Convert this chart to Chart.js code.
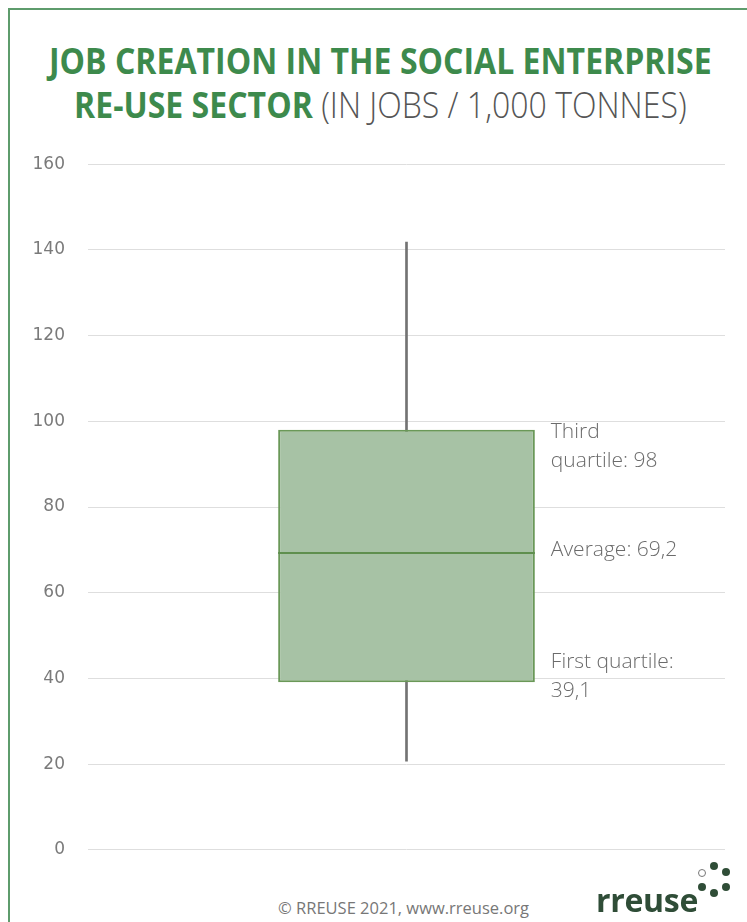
<!DOCTYPE html>
<html>
<head>
<meta charset="utf-8">
<script src="https://cdn.jsdelivr.net/npm/chart.js@4.4.1/dist/chart.umd.min.js"></script>
<style>
    body { margin: 0; width: 747px; height: 922px; background: #fff; overflow: hidden; position: relative; font-family: 'Open Sans', sans-serif; }
    .frame { position: absolute; left: 8px; top: 8px; width: 760px; height: 940px; border-left: 2px solid #5e9c6c; border-top: 2px solid #5e9c6c; }
    .title { position: absolute; left: 7px; top: 39px; width: 747px; text-align: center; }
    .title .inner { display: inline-block; transform: scaleX(0.89); transform-origin: center; font-size: 36px; line-height: 44px; white-space: nowrap; }
    .title b { color: #3d8a4c; font-weight: 700; }
    .title span { color: #555; font-weight: 300; }
    .wrap { position: absolute; left: 0; top: 131px; width: 747px; height: 752px; }
    .footer { position: absolute; left: 278px; top: 896px; font-size: 16.5px; color: #777; }
    .logo { position: absolute; left: 596px; top: 884px; font-size: 32px; font-weight: 700; color: #2f4d37; line-height: 32px; letter-spacing: -0.3px; }
    .dot { position: absolute; width: 8px; height: 8px; border-radius: 50%; background: #2f4d37; }
    .dot.o { background: #fff; border: 1px solid #777; width: 6px; height: 6px; }
</style>
</head>
<body>
<div class="frame"></div>
<div class="title"><div class="inner"><b>JOB CREATION IN THE SOCIAL ENTERPRISE</b><br><b>RE-USE SECTOR</b> <span>(IN JOBS / 1,000 TONNES)</span></div></div>
<div class="wrap"><canvas id="boxChart"></canvas></div>
<div class="footer">© RREUSE 2021, www.rreuse.org</div>
<div class="logo">rreuse</div>
<div class="dot o" style="left:698px;top:869px"></div>
<div class="dot" style="left:710px;top:862px"></div>
<div class="dot" style="left:722px;top:868px"></div>
<div class="dot" style="left:722px;top:883px"></div>
<div class="dot" style="left:710px;top:889px"></div>
<div class="dot" style="left:698px;top:883px"></div>
<script>
// Box plot values (jobs / 1,000 tonnes) //
var categories = ['Re-use'];
var whiskerMin = 20.7;
var whiskerMax = 141.8;
var firstQuartile = 39.1;
var average = 69.2;
var thirdQuartile = 98;
var yTicks = [0, 20, 40, 60, 80, 100, 120, 140, 160];

var noteValues = [thirdQuartile, average, firstQuartile];
var noteLines = [
    ['Third', 'quartile: 98'],
    ['Average: 69,2'],
    ['First quartile:', '39,1'],
];

// pixel nudges for the side notes, as laid out in the original
var noteShift = [2, -3, -20];

// draws the average line across the box and the side notes
var boxExtras = {
    id: 'boxExtras',
    afterDatasetsDraw: function (chart) {
        var c = chart.ctx;
        var y = chart.scales.y;
        var box = chart.getDatasetMeta(1).data[0];
        var half = box.width / 2;
        c.save();
        c.strokeStyle = '#5f8f4e';
        c.lineWidth = 2;
        var ym = Math.round(y.getPixelForValue(average));
        c.beginPath();
        c.moveTo(box.x - half, ym);
        c.lineTo(box.x + half, ym);
        c.stroke();

        c.fillStyle = '#6b6b6b';
        c.font = '300 21px "Open Sans"';
        c.textBaseline = 'middle';
        var tx = box.x + half + 16;
        noteValues.forEach(function (v, k) {
            var py = y.getPixelForValue(v) + noteShift[k];
            noteLines[k].forEach(function (line, i) {
                c.fillText(line, tx, py + i * 29);
            });
        });
        c.restore();
    }
};

var ctx = document.getElementById('boxChart').getContext('2d');
var boxChart = new Chart(ctx, {
    type: 'bar',
    data: {
        labels: categories,
        datasets: [
            {
                label: 'Whisker',
                data: [[whiskerMin, whiskerMax]],
                backgroundColor: '#737373',
                barThickness: 2,
                grouped: false,
                order: 2,
            },
            {
                label: 'Box',
                data: [[firstQuartile, thirdQuartile]],
                backgroundColor: '#a7c2a5',
                borderColor: '#6a9858',
                borderWidth: 2,
                borderSkipped: false,
                categoryPercentage: 1,
                barPercentage: 0.403,
                grouped: false,
                order: 1,
            },
        ],
    },
    options: {
        responsive: true,
        maintainAspectRatio: false,
        animation: false,
        layout: {
            padding: { left: 0, right: 22, top: 0, bottom: 0 }
        },
        scales: {
            x: {
                display: false,
            },
            y: {
                min: 0,
                max: 160,
                afterFit: function (s) { s.width = 88; },
                afterBuildTicks: function (s) {
                    s.ticks = yTicks.map(function (v) { return { value: v }; });
                },
                grid: {
                    color: '#dedede',
                    lineWidth: 1,
                    drawTicks: false,
                },
                border: { display: false },
                ticks: {
                    color: '#7a7a7a',
                    padding: 23,
                    font: { family: 'DejaVu Sans', size: 17 },
                },
            },
        },
        plugins: {
            legend: { display: false },
            tooltip: { enabled: false },
        }
    },
    plugins: [boxExtras]
});
</script>
</body>
</html>
